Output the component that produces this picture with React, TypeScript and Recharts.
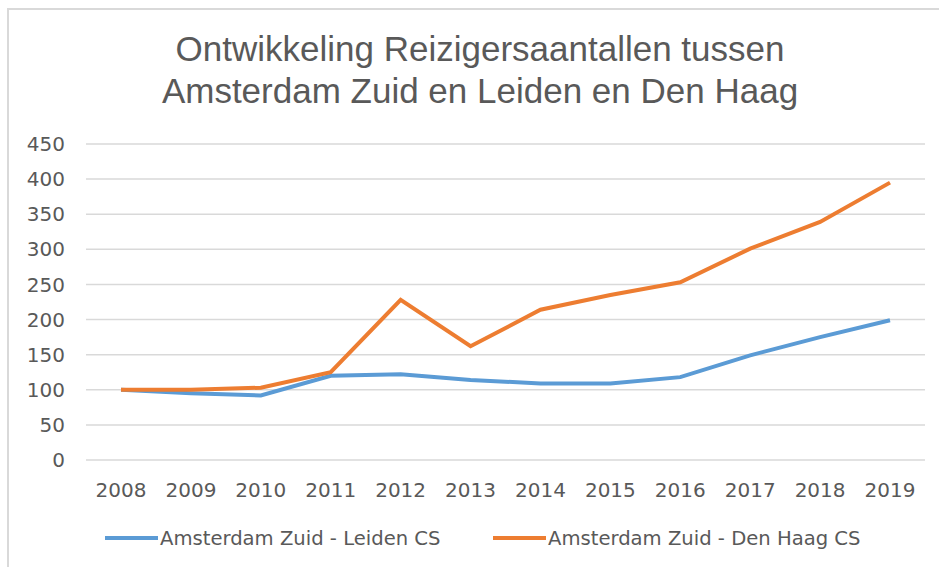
import React from "react";
import { LineChart, Line, XAxis, YAxis, CartesianGrid, Legend } from "recharts";

const years = ["2008", "2009", "2010", "2011", "2012", "2013", "2014", "2015", "2016", "2017", "2018", "2019"];
const leiden = [100, 95, 92, 120, 122, 114, 109, 109, 118, 149, 175, 199];
const denHaag = [100, 100, 103, 125, 228, 162, 214, 235, 253, 301, 339, 395];
const yTicks = [0, 50, 100, 150, 200, 250, 300, 350, 400, 450];
const seriesNames = ["Amsterdam Zuid - Leiden CS", "Amsterdam Zuid - Den Haag CS"];
const titleLines = ["Ontwikkeling Reizigersaantallen tussen", "Amsterdam Zuid en Leiden en Den Haag"];

const data = years.map((y, i) => ({ year: y, leiden: leiden[i], denHaag: denHaag[i] }));

const BLUE = "#5B9BD5";
const ORANGE = "#ED7D31";
const TEXT = "#595959";
const FONT = "DejaVu Sans";

const LegendContent = () => {
  const items = [
    { name: seriesNames[0], color: BLUE, left: 105 },
    { name: seriesNames[1], color: ORANGE, left: 493 },
  ];
  return (
    <div style={{ position: "relative", width: 939, height: 30 }}>
      {items.map((it) => (
        <div
          key={it.name}
          style={{ position: "absolute", left: it.left, top: 0, display: "flex", alignItems: "center", height: 30 }}
        >
          <div style={{ width: 53, height: 4, background: it.color, marginRight: 2 }} />
          <span style={{ fontFamily: FONT, fontSize: 19.6, color: TEXT, whiteSpace: "nowrap" }}>{it.name}</span>
        </div>
      ))}
    </div>
  );
};

export default function App() {
  return (
    <div style={{ position: "absolute", left: 0, top: 0, width: 939, height: 567, background: "#fff", overflow: "hidden" }}>
      <div
        style={{
          position: "absolute",
          left: 7,
          top: 8,
          width: 960,
          height: 600,
          borderLeft: "2px solid #d9d9d9",
          borderTop: "2px solid #d9d9d9",
        }}
      />
      <div
        style={{
          position: "absolute",
          left: 0,
          top: 28,
          width: 960,
          textAlign: "center",
          fontFamily: "Liberation Sans",
          fontSize: 35,
          lineHeight: "42px",
          color: TEXT,
        }}
      >
        {titleLines.map((t) => (
          <div key={t}>{t}</div>
        ))}
      </div>
      <LineChart width={939} height={567} data={data} margin={{ top: 144, right: 14, bottom: 77, left: 6 }}>
        <CartesianGrid vertical={false} stroke="#d9d9d9" strokeWidth={1.5} />
        <XAxis
          dataKey="year"
          axisLine={false}
          tickLine={false}
          tickSize={0}
          tickMargin={23}
          height={30}
          interval={0}
          padding={{ left: 35, right: 35 }}
          tick={{ fill: TEXT, fontSize: 20, fontFamily: FONT }}
        />
        <YAxis
          domain={[0, 450]}
          ticks={yTicks}
          axisLine={false}
          tickLine={false}
          tickSize={0}
          tickMargin={21}
          width={80}
          interval={0}
          tick={{ fill: TEXT, fontSize: 20, fontFamily: FONT }}
        />
        <Legend
          verticalAlign="middle"
          layout="horizontal"
          content={<LegendContent />}
          wrapperStyle={{ position: "absolute", top: 523, left: 0, width: 939 }}
        />
        <Line
          type="linear"
          dataKey="leiden"
          name={seriesNames[0]}
          stroke={BLUE}
          strokeWidth={4}
          dot={false}
          isAnimationActive={false}
        />
        <Line
          type="linear"
          dataKey="denHaag"
          name={seriesNames[1]}
          stroke={ORANGE}
          strokeWidth={4}
          dot={false}
          isAnimationActive={false}
        />
      </LineChart>
    </div>
  );
}
